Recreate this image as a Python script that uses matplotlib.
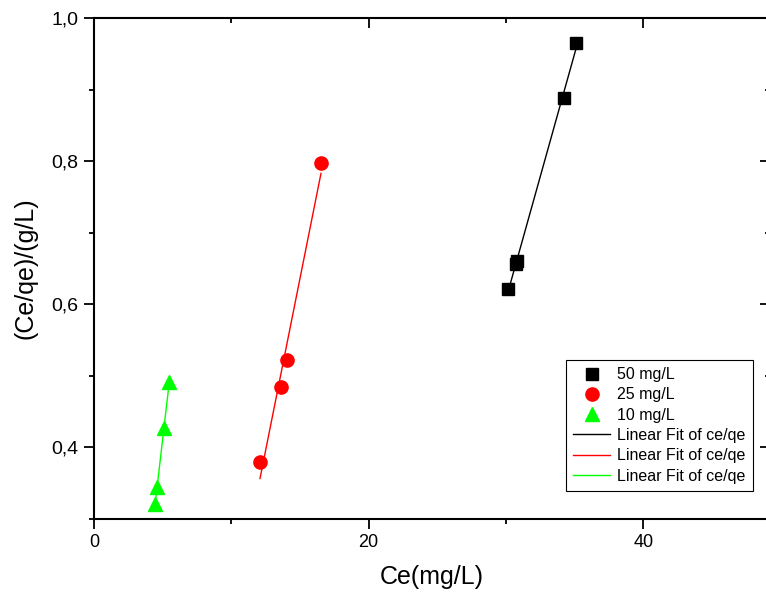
import numpy as np
import matplotlib.pyplot as plt
from matplotlib.ticker import MultipleLocator, FuncFormatter

plt.rcParams['font.family'] = ['Liberation Sans', 'DejaVu Sans']

# equilibrium data for each initial concentration
x50 = [30.15, 30.74, 30.80, 34.23, 35.10]
y50 = [0.622, 0.656, 0.660, 0.888, 0.965]
x25 = [12.09, 13.60, 14.03, 16.53]
y25 = [0.380, 0.484, 0.522, 0.798]
x10 = [4.44, 4.61, 5.10, 5.48]
y10 = [0.321, 0.345, 0.427, 0.492]

labels = ['50 mg/L', '25 mg/L', '10 mg/L']
fit_label = 'Linear Fit of ce/qe'

fig = plt.figure(figsize=(7.66, 5.98), dpi=100)
ax = fig.add_axes([94 / 766, 1 - 519 / 598, 676 / 766, 501 / 598])

series = [(x50, y50, 's', 'black', 8.5),
          (x25, y25, 'o', '#ff0000', 9.5),
          (x10, y10, '^', '#00ff00', 10)]

pts = []
for (x, y, m, c, ms), lab in zip(series, labels):
    h, = ax.plot(x, y, m, color=c, ms=ms, label=lab, zorder=3)
    pts.append(h)

fits = []
for x, y, m, c, ms in series:
    k, b = np.polyfit(x, y, 1)
    xx = np.array([min(x), max(x)])
    h, = ax.plot(xx, k * xx + b, '-', color=c, lw=1, label=fit_label, zorder=2)
    fits.append(h)

ax.set_xlim(0, 49.23)
ax.set_ylim(0.3, 1.0)

ax.xaxis.set_major_locator(MultipleLocator(20))
ax.xaxis.set_minor_locator(MultipleLocator(10))
ax.yaxis.set_major_locator(MultipleLocator(0.2))
ax.yaxis.set_minor_locator(MultipleLocator(0.1))
ax.yaxis.set_major_formatter(FuncFormatter(lambda v, p: f'{v:.1f}'.replace('.', ',')))

for s in ax.spines.values():
    s.set_linewidth(1.5)

ax.tick_params(which='major', direction='out', length=7, width=1.3, pad=4)
ax.tick_params(which='minor', direction='out', length=3.5, width=1.3)
ax.tick_params(axis='x', labelsize=13)
ax.tick_params(axis='y', labelsize=14)
ax.tick_params(which='both', top=True, right=True)
# mirrored ticks on top and right point inward
for t in ax.xaxis.get_major_ticks() + ax.xaxis.get_minor_ticks():
    t.tick2line.set_marker(3)
for t in ax.yaxis.get_major_ticks() + ax.yaxis.get_minor_ticks():
    t.tick2line.set_marker(0)

ax.set_xlabel('Ce(mg/L)', fontsize=18, labelpad=10)
ax.set_ylabel('(Ce/qe)/(g/L)', fontsize=18, labelpad=10)

leg = ax.legend(handles=pts + fits, loc='upper left',
                bbox_to_anchor=(566 / 766, 1 - 360 / 598),
                bbox_transform=fig.transFigure, borderaxespad=0,
                fontsize=11.5, frameon=True, fancybox=False,
                edgecolor='black', framealpha=1, handlelength=2.3,
                handletextpad=0.45, labelspacing=0.33, borderpad=0.45)
leg.get_frame().set_linewidth(0.8)

fig.savefig('out.png', dpi=100)
